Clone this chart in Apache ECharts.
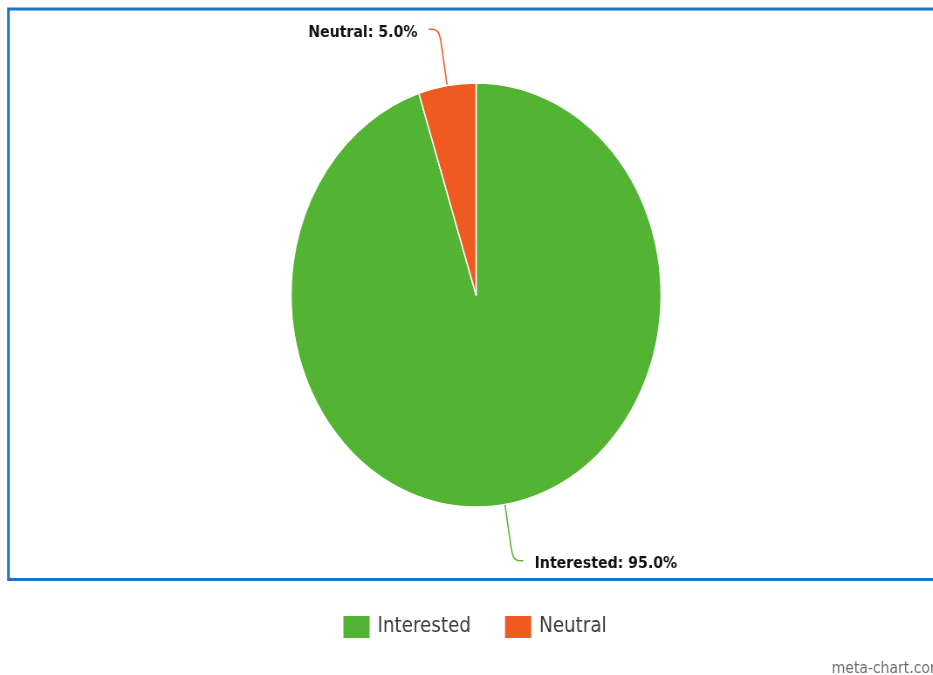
<!DOCTYPE html>
<html>
<head>
<meta charset="utf-8">
<script src="https://cdn.jsdelivr.net/npm/echarts@6/dist/echarts.min.js"></script>
<style>
  html, body { margin: 0; padding: 0; background: #ffffff; }
  #frame { width: 933px; height: 675px; overflow: hidden; position: relative; }
  /* The chart is laid out on a wider canvas and compressed horizontally,
     which gives the pie its tall elliptical shape and the narrow lettering. */
  #chart { width: 1069px; height: 675px; transform: scaleX(0.8727); transform-origin: 0 0; }
</style>
</head>
<body>
<div id="frame"><div id="chart"></div></div>
<script>
// Survey answers
const categories = ['Interested', 'Neutral'];
const shares = [95, 5];

const sliceColors = ['#53b434', '#ee5a1f'];

const chart = echarts.init(document.getElementById('chart'), null, { renderer: 'canvas' });

const pieData = categories.map((name, i) => ({
  name: name,
  value: shares[i],
  itemStyle: { color: sliceColors[i] },
  labelLine: { lineStyle: { color: sliceColors[i] } }
}));

chart.setOption({
  backgroundColor: '#ffffff',
  animation: false,
  color: sliceColors,
  graphic: [
    {
      type: 'rect',
      z: 0,
      shape: { x: 9.7, y: 9, width: 2000, height: 570.5 },
      style: { fill: 'none', stroke: '#1874c8', lineWidth: 3 }
    },
    {
      type: 'text',
      left: 953,
      top: 661,
      style: {
        text: 'meta-chart.com',
        fill: '#6b6b6b',
        font: '16px "DejaVu Sans"'
      }
    }
  ],
  legend: {
    data: categories,
    left: 388.5,
    top: 611,
    icon: 'rect',
    itemWidth: 30,
    itemHeight: 22,
    itemGap: 39,
    itemStyle: { borderWidth: 0 },
    textStyle: {
      fontFamily: 'DejaVu Sans',
      fontSize: 21,
      color: '#3a3a3a',
      padding: [0, 0, 0, 4]
    }
  },
  series: [
    {
      type: 'pie',
      center: [545.5, 295],
      radius: [0, 212],
      startAngle: 90,
      clockwise: true,
      avoidLabelOverlap: false,
      itemStyle: { borderColor: '#ffffff', borderWidth: 1.5 },
      label: {
        show: true,
        position: 'outside',
        distanceToLabelLine: 13,
        formatter: p => '{t|' + p.name + ': ' + p.value.toFixed(1) + '%}',
        rich: {
          t: {
            fontFamily: 'DejaVu Sans',
            fontWeight: 'bold',
            fontSize: 16.2,
            color: '#111111',
            padding: [7, 0, 0, 0]
          }
        }
      },
      labelLine: {
        show: true,
        length: 57,
        length2: 12,
        smooth: 0.4,
        lineStyle: { width: 1.5 }
      },
      emphasis: { disabled: true },
      data: pieData
    }
  ]
});
</script>
</body>
</html>
